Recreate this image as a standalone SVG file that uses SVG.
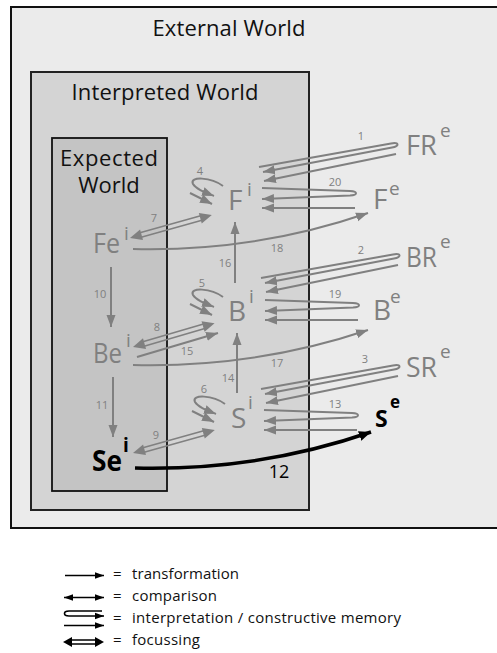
<svg xmlns="http://www.w3.org/2000/svg" width="497" height="653" viewBox="0 0 497 653">
<defs>
<style>
text{font-family:"Open Sans","Liberation Sans",sans-serif}
.title{font-size:22px;fill:#111}
.n{font-size:28px;fill:#808080}
.sup{font-size:19px;fill:#808080}
.nb{font-size:28px;font-weight:bold;fill:#000}
.supb{font-size:19px;font-weight:bold;fill:#000}
.num{font-size:11px;fill:#808080}
.g{fill:none;stroke:#808080;stroke-width:2}
.k{fill:none;stroke:#000;stroke-width:1.6}
.hg{fill:#808080}
.hk{fill:#000}
.lg{font-size:15px;fill:#111}
</style>
<marker id="ag" markerUnits="userSpaceOnUse" markerWidth="14" markerHeight="10" refX="12" refY="5" orient="auto-start-reverse"><path d="M0,0.5 L12,5 L0,9.5 z" fill="#808080"/></marker>
<marker id="ak" markerUnits="userSpaceOnUse" markerWidth="10" markerHeight="8" refX="9" refY="4" orient="auto-start-reverse"><path d="M0,0.8 L9,4 L0,7.2 z" fill="#000"/></marker>
<marker id="akb" markerUnits="userSpaceOnUse" markerWidth="14" markerHeight="12" refX="12" refY="6" orient="auto"><path d="M0,1 L12,6 L0,11 z" fill="#000"/></marker>
</defs>

<g id="external-world">
<rect x="11" y="7" width="500" height="521" fill="#ebebeb" stroke="#111" stroke-width="2"/>
<text class="title" x="229" y="36" text-anchor="middle" textLength="153">External World</text>
</g>
<g id="interpreted-world">
<rect x="31" y="72" width="278" height="438" fill="#d4d4d4" stroke="#222" stroke-width="2"/>
<text class="title" x="165" y="100" text-anchor="middle" textLength="187">Interpreted World</text>
</g>
<g id="expected-world">
<rect x="52" y="138" width="115" height="353" fill="#c4c4c4" stroke="#111" stroke-width="1.8"/>
<text class="title" x="109" y="166" text-anchor="middle" textLength="98">Expected</text>
<text class="title" x="109" y="193" text-anchor="middle">World</text>
</g>

<g id="node-FRe"><text class="n" x="406" y="155" textLength="31" lengthAdjust="spacingAndGlyphs">FR</text><text class="sup" x="440" y="137">e</text></g>
<g id="node-Fe"><text class="n" x="373" y="209">F</text><text class="sup" x="389" y="195">e</text></g>
<g id="node-Fi"><text class="n" x="228" y="210">F</text><text class="sup" x="247" y="196">i</text></g>
<g id="node-BRe"><text class="n" x="406" y="267" textLength="31" lengthAdjust="spacingAndGlyphs">BR</text><text class="sup" x="440" y="248">e</text></g>
<g id="node-Be"><text class="n" x="373" y="320">B</text><text class="sup" x="390" y="303">e</text></g>
<g id="node-Bi"><text class="n" x="228" y="321">B</text><text class="sup" x="249" y="303">i</text></g>
<g id="node-SRe"><text class="n" x="406" y="377" textLength="31" lengthAdjust="spacingAndGlyphs">SR</text><text class="sup" x="440" y="358">e</text></g>
<g id="node-Se"><text class="nb" x="375" y="427" style="font-size:23px">S</text><text class="supb" x="390" y="408" style="font-size:17px">e</text></g>
<g id="node-Si"><text class="n" x="231" y="428">S</text><text class="sup" x="248" y="409">i</text></g>
<g id="node-Fei"><text class="n" x="93" y="253" textLength="27" lengthAdjust="spacingAndGlyphs">Fe</text><text class="sup" x="124" y="240">i</text></g>
<g id="node-Bei"><text class="n" x="93" y="363" textLength="29" lengthAdjust="spacingAndGlyphs">Be</text><text class="sup" x="126" y="347">i</text></g>
<g id="node-Sei"><text class="nb" x="92" y="471" textLength="30" lengthAdjust="spacingAndGlyphs">Se</text><text class="supb" x="123" y="452">i</text></g>

<g id="connectors">
<g id="interp-1">
<path class="g" d="M259,167 L391,143.5 C399,142 400,146 392,147.5 L263,172" marker-end="url(#ag)"/>
<path class="g" d="M396,154 L264,181" marker-end="url(#ag)"/>
</g>
<g id="interp-2" transform="translate(2,111)">
<path class="g" d="M259,167 L391,143.5 C399,142 400,146 392,147.5 L263,172" marker-end="url(#ag)"/>
<path class="g" d="M396,154 L264,181" marker-end="url(#ag)"/>
</g>
<g id="interp-3" transform="translate(2,222)">
<path class="g" d="M259,167 L391,143.5 C399,142 400,146 392,147.5 L263,172" marker-end="url(#ag)"/>
<path class="g" d="M396,154 L264,181" marker-end="url(#ag)"/>
</g>
<g id="interp-20">
<path class="g" d="M262,188 L350,191 C358,191.5 358,195 350,195.5 L262,199" marker-end="url(#ag)"/>
<path class="g" d="M355,208 L262,208" marker-end="url(#ag)"/>
</g>
<g id="interp-19" transform="translate(3,112)">
<path class="g" d="M262,188 L350,191 C358,191.5 358,195 350,195.5 L262,199" marker-end="url(#ag)"/>
<path class="g" d="M355,208 L262,208" marker-end="url(#ag)"/>
</g>
<g id="interp-13" transform="translate(2,222)">
<path class="g" d="M262,188 L350,191 C358,191.5 358,195 350,195.5 L262,199" marker-end="url(#ag)"/>
<path class="g" d="M355,208 L262,208" marker-end="url(#ag)"/>
</g>
<g id="loop-4">
<path class="g" d="M223,186 C211,177 189,176 193,184 C196,189 204,192 214,196" marker-end="url(#ag)"/>
<path class="g" d="M190,193 L212,204" marker-end="url(#ag)"/>
</g>
<g id="loop-5" transform="translate(0,111)">
<path class="g" d="M223,186 C211,177 189,176 193,184 C196,189 204,192 214,196" marker-end="url(#ag)"/>
<path class="g" d="M190,193 L212,204" marker-end="url(#ag)"/>
</g>
<g id="loop-6" transform="translate(2,218)">
<path class="g" d="M223,186 C211,177 189,176 193,184 C196,189 204,192 214,196" marker-end="url(#ag)"/>
<path class="g" d="M190,193 L212,204" marker-end="url(#ag)"/>
</g>
<g id="focus-7" transform="translate(130,238) rotate(-15.7)">
<polygon class="hg" points="0,0 12,-5.5 12,5.5"/><polygon class="hg" points="85,0 73,-5.5 73,5.5"/>
<path class="g" style="stroke-width:1.6" d="M10,-2.3 L75,-2.3 M10,2.3 L75,2.3"/>
</g>
<g id="focus-8" transform="translate(133,347) rotate(-16.3)">
<polygon class="hg" points="0,0 12,-5.5 12,5.5"/><polygon class="hg" points="85,0 73,-5.5 73,5.5"/>
<path class="g" style="stroke-width:1.6" d="M10,-2.3 L75,-2.3 M10,2.3 L75,2.3"/>
</g>
<g id="focus-9" transform="translate(133,453) rotate(-15.7)">
<polygon class="hg" points="0,0 12,-5.5 12,5.5"/><polygon class="hg" points="85,0 73,-5.5 73,5.5"/>
<path class="g" style="stroke-width:1.6" d="M10,-2.3 L75,-2.3 M10,2.3 L75,2.3"/>
</g>
<path id="t15" class="g" d="M137,357 L218,333" marker-end="url(#ag)"/>
<path id="t16" class="g" d="M235,283 L235,222" marker-end="url(#ag)"/>
<path id="t14" class="g" d="M237,393 L237,333" marker-end="url(#ag)"/>
<path id="t10" class="g" d="M111,267 L111,327" marker-end="url(#ag)"/>
<path id="t11" class="g" d="M113,377 L113,437" marker-end="url(#ag)"/>
<path id="t18" class="g" d="M133,249 Q255,252 368,213" marker-end="url(#ag)"/>
<path id="t17" class="g" d="M133,365 Q255,368 368,330" marker-end="url(#ag)"/>
<path id="t12" fill="none" stroke="#000" stroke-width="3.5" d="M135,468 Q258,471 371,432" marker-end="url(#akb)"/>
</g>

<g id="labels">
<text class="num" x="361" y="140" text-anchor="middle">1</text>
<text class="num" x="335" y="186" text-anchor="middle">20</text>
<text class="num" x="200" y="175" text-anchor="middle">4</text>
<text class="num" x="154" y="222" text-anchor="middle">7</text>
<text class="num" x="277" y="252" text-anchor="middle">18</text>
<text class="num" x="225" y="267" text-anchor="middle">16</text>
<text class="num" x="100" y="298" text-anchor="middle">10</text>
<text class="num" x="202" y="287" text-anchor="middle">5</text>
<text class="num" x="361" y="254" text-anchor="middle">2</text>
<text class="num" x="335" y="298" text-anchor="middle">19</text>
<text class="num" x="157" y="331" text-anchor="middle">8</text>
<text class="num" x="187" y="355" text-anchor="middle">15</text>
<text class="num" x="277" y="367" text-anchor="middle">17</text>
<text class="num" x="228" y="382" text-anchor="middle">14</text>
<text class="num" x="365" y="363" text-anchor="middle">3</text>
<text class="num" x="204" y="393" text-anchor="middle">6</text>
<text class="num" x="335" y="408" text-anchor="middle">13</text>
<text class="num" x="102" y="409" text-anchor="middle">11</text>
<text class="num" x="156" y="439" text-anchor="middle">9</text>
<text x="279" y="478" text-anchor="middle" style="font-size:18px;fill:#000">12</text>
</g>

<g id="legend">
<path class="k" d="M65,575.5 L104,575.5" marker-end="url(#ak)"/>
<path class="k" d="M64,597.5 L104,597.5" marker-start="url(#ak)" marker-end="url(#ak)"/>
<path class="k" d="M102,611 L69,611 C63,611 63,616 69,616 L104,616" marker-end="url(#ak)"/>
<path class="k" d="M64,625.5 L104,625.5" marker-end="url(#ak)"/>
<g transform="translate(63,642)">
<polygon class="hk" points="0,0 9,-5 9,5"/><polygon class="hk" points="41,0 32,-5 32,5"/>
<path class="k" style="stroke-width:1.4" d="M8,-2 L33,-2 M8,2 L33,2"/>
</g>
<text class="lg" x="113" y="579">=</text><text class="lg" x="132" y="579" textLength="107">transformation</text>
<text class="lg" x="113" y="601">=</text><text class="lg" x="132" y="601" textLength="85">comparison</text>
<text class="lg" x="113" y="623">=</text><text class="lg" x="132" y="623" textLength="269">interpretation / constructive memory</text>
<text class="lg" x="113" y="645">=</text><text class="lg" x="132" y="645" textLength="68">focussing</text>
</g>
</svg>
